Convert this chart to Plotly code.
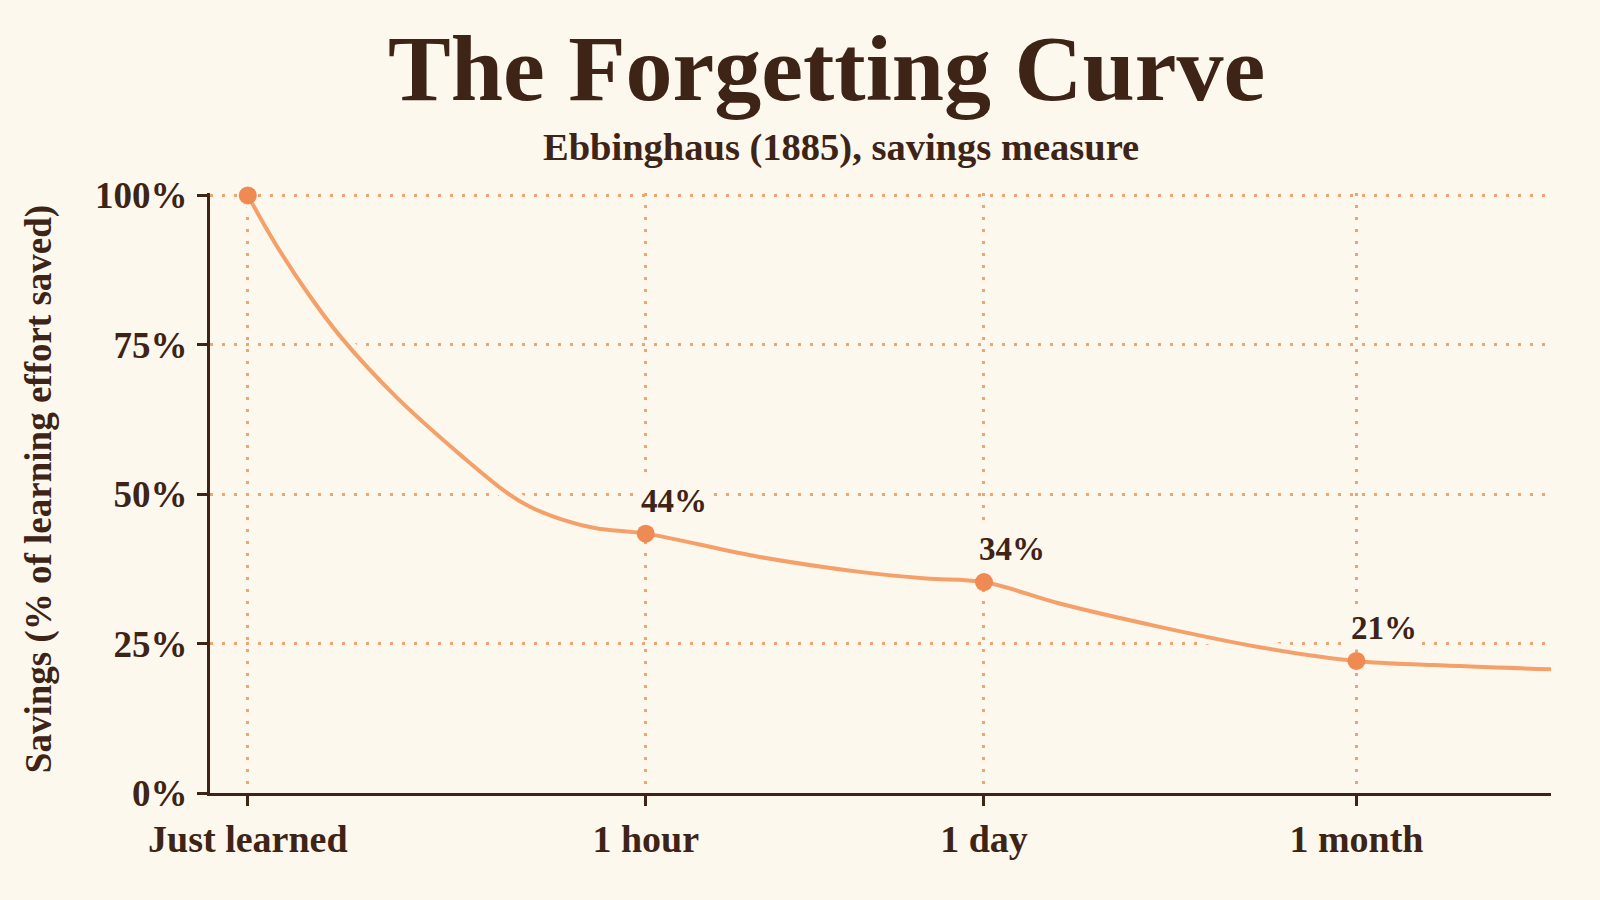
import plotly.graph_objects as go

# data
time_labels = ["Just learned", "1 hour", "1 day", "1 month"]
time_pos = [0, 1, 1.85, 2.786]           # horizontal placement of each interval
savings = [100, 43.4, 35.3, 22.1]         # % of learning effort saved (marker height)
value_labels = ["", "44%", "34%", "21%"]

# points along the drawn curve
curve_pos = [0, 0.064, 0.147, 0.235, 0.374, 0.541, 0.650, 0.709, 0.792, 0.875, 1.0,
             1.286, 1.538, 1.705, 1.85, 2.040, 2.291, 2.543, 2.786, 2.978, 3.276]
curve_savings = [100, 92.5, 84.0, 76.2, 66.2, 56.2, 50.3, 47.9, 45.7, 44.3, 43.4,
                 39.5, 37.0, 35.9, 35.3, 31.7, 27.8, 24.4, 22.1, 21.4, 20.7]

y_ticks = [0, 25, 50, 75, 100]
y_tick_text = ["0%", "25%", "50%", "75%", "100%"]

bg = "#fdf8ee"
ink = "#3d2416"
line_col = "#f4a068"
dot_col = "#ee8a52"
grid_col = "#eea474"
serif = "Liberation Serif"

fig = go.Figure()

# background halo under the curve so the grid breaks around it
fig.add_trace(go.Scatter(
    x=curve_pos, y=curve_savings, mode="lines",
    line=dict(color=bg, width=14, shape="spline", smoothing=1.0),
    hoverinfo="skip", cliponaxis=False,
))
fig.add_trace(go.Scatter(
    x=curve_pos, y=curve_savings, mode="lines",
    line=dict(color=line_col, width=4, shape="spline", smoothing=1.0),
    hoverinfo="skip", cliponaxis=False,
))
fig.add_trace(go.Scatter(
    x=time_pos, y=savings, mode="markers",
    marker=dict(color=dot_col, size=18),
    cliponaxis=False,
))

for xp, yv, lab in zip(time_pos, savings, value_labels):
    if not lab:
        continue
    fig.add_annotation(
        x=xp, y=yv, text=lab, showarrow=False,
        xanchor="left", yanchor="middle", xshift=-9, yshift=33,
        font=dict(family=serif, size=33, color=ink, weight="bold"),
        bgcolor=bg, borderpad=3,
    )

# title + subtitle
fig.add_annotation(
    xref="paper", yref="paper", x=0.46, y=1.209,
    text="The Forgetting Curve", showarrow=False,
    xanchor="center", yanchor="middle",
    font=dict(family=serif, size=94, color=ink, weight="bold"),
)
fig.add_annotation(
    xref="paper", yref="paper", x=0.4706, y=1.076,
    text="Ebbinghaus (1885), savings measure", showarrow=False,
    xanchor="center", yanchor="middle",
    font=dict(family=serif, size=38.5, color=ink, weight="bold"),
)
# y axis title
fig.add_annotation(
    xref="paper", yref="paper", x=-0.128, y=0.507,
    text="Savings (% of learning effort saved)", showarrow=False,
    textangle=-90, xanchor="center", yanchor="middle",
    font=dict(family=serif, size=37, color=ink, weight="bold"),
)

fig.update_layout(
    width=1600, height=900,
    margin=dict(l=210, r=49, t=193, b=107),
    paper_bgcolor=bg, plot_bgcolor=bg,
    showlegend=False,
    xaxis=dict(
        range=[-0.095, 3.275],
        tickvals=time_pos, ticktext=time_labels,
        showgrid=True, gridcolor=grid_col, gridwidth=2.5, griddash="2.5px,9.5px",
        showline=True, linecolor=ink, linewidth=3,
        ticks="outside", ticklen=10, tickwidth=3, tickcolor=ink,
        ticklabelstandoff=0,
        tickfont=dict(family=serif, size=38, color=ink, weight="bold"),
        zeroline=False,
    ),
    yaxis=dict(
        range=[0, 100.4],
        tickvals=y_ticks, ticktext=y_tick_text,
        showgrid=True, gridcolor=grid_col, gridwidth=2.5, griddash="2.5px,9.5px",
        showline=True, linecolor=ink, linewidth=3,
        ticks="outside", ticklen=10, tickwidth=3, tickcolor=ink,
        ticklabelstandoff=2,
        tickfont=dict(family=serif, size=37, color=ink, weight="bold"),
        zeroline=False,
    ),
)

fig.write_html(
    "out.html",
    config={"displayModeBar": False},
    post_script="document.body.style.margin='0';"
                "document.body.style.backgroundColor='" + bg + "';",
)
